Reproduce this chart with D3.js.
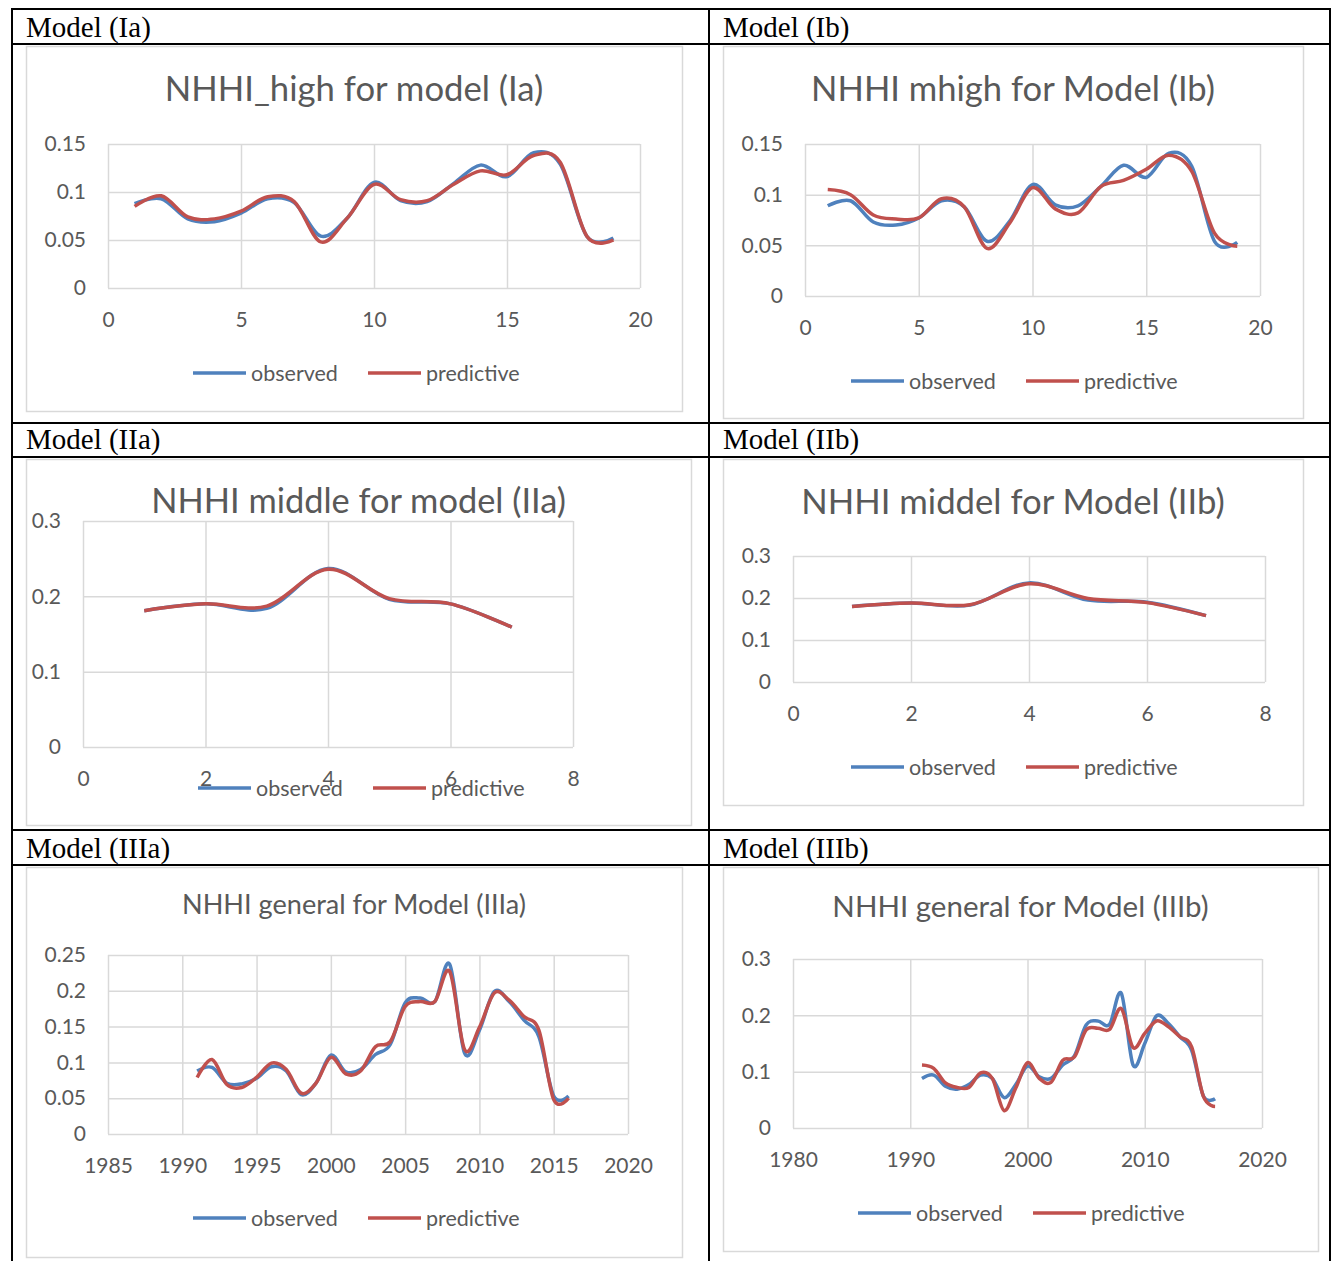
<!DOCTYPE html>
<html>
<head>
<meta charset="utf-8">
<script src="https://cdn.jsdelivr.net/npm/d3@7"></script>
<style>
  body { margin: 0; background: #fff; }
  svg text { font-family: Lato, "Open Sans", sans-serif; }
</style>
</head>
<body>
<div id="page"></div>
<script>
// index on the x axis (models I and II) and years (model III)
var idx19 = [1, 2, 3, 4, 5, 6, 7, 8, 9, 10, 11, 12, 13, 14, 15, 16, 17, 18, 19];
var idx7 = [1, 2, 3, 4, 5, 6, 7];
var years = [1991, 1992, 1993, 1994, 1995, 1996, 1997, 1998, 1999, 2000, 2001, 2002, 2003,
  2004, 2005, 2006, 2007, 2008, 2009, 2010, 2011, 2012, 2013, 2014, 2015, 2016];

var obsIa = [0.088, 0.093, 0.072, 0.069, 0.078, 0.093, 0.089, 0.054, 0.073, 0.110, 0.091, 0.090,
  0.109, 0.128, 0.116, 0.141, 0.129, 0.054, 0.052];
var predIa = [0.085, 0.096, 0.074, 0.072, 0.080, 0.095, 0.090, 0.048, 0.073, 0.108, 0.092, 0.091,
  0.108, 0.122, 0.118, 0.138, 0.131, 0.054, 0.050];

var obsIb = [0.089, 0.094, 0.073, 0.070, 0.077, 0.094, 0.088, 0.054, 0.074, 0.110, 0.090, 0.089,
  0.108, 0.129, 0.117, 0.141, 0.128, 0.054, 0.053];
var predIb = [0.105, 0.100, 0.080, 0.076, 0.077, 0.096, 0.088, 0.047, 0.072, 0.107, 0.086, 0.082,
  0.108, 0.114, 0.125, 0.139, 0.123, 0.062, 0.049];

var obsIIa = [0.181, 0.190, 0.184, 0.237, 0.196, 0.190, 0.159];
var predIIa = [0.181, 0.190, 0.187, 0.236, 0.197, 0.190, 0.159];

var obsIIb = [0.180, 0.188, 0.183, 0.236, 0.195, 0.190, 0.158];
var predIIb = [0.180, 0.188, 0.184, 0.234, 0.199, 0.189, 0.158];

var obsIIIa = [0.088, 0.093, 0.071, 0.070, 0.078, 0.094, 0.088, 0.055, 0.071, 0.110, 0.087, 0.090,
  0.111, 0.125, 0.183, 0.190, 0.185, 0.237, 0.113, 0.145, 0.199, 0.185, 0.159, 0.136, 0.053, 0.053];
var predIIIa = [0.079, 0.104, 0.069, 0.065, 0.079, 0.099, 0.090, 0.057, 0.071, 0.107, 0.084, 0.088,
  0.122, 0.129, 0.178, 0.185, 0.185, 0.227, 0.118, 0.149, 0.197, 0.187, 0.164, 0.145, 0.048, 0.050];

var obsIIIb = [0.088, 0.094, 0.074, 0.069, 0.077, 0.094, 0.088, 0.054, 0.077, 0.110, 0.091, 0.088,
  0.112, 0.128, 0.183, 0.190, 0.184, 0.239, 0.112, 0.150, 0.199, 0.186, 0.162, 0.138, 0.057, 0.052];
var predIIIb = [0.112, 0.106, 0.080, 0.072, 0.072, 0.098, 0.088, 0.031, 0.071, 0.116, 0.088, 0.081,
  0.120, 0.126, 0.174, 0.177, 0.175, 0.212, 0.143, 0.168, 0.190, 0.180, 0.162, 0.144, 0.056, 0.038];

// tick labels
var yTicksI = [0, 0.05, 0.1, 0.15];
var xTicksI = [0, 5, 10, 15, 20];
var yTicksII = [0, 0.1, 0.2, 0.3];
var xTicksII = [0, 2, 4, 6, 8];
var yTicksIIIa = [0, 0.05, 0.1, 0.15, 0.2, 0.25];
var xTicksIIIa = [1985, 1990, 1995, 2000, 2005, 2010, 2015, 2020];
var yTicksIIIb = [0, 0.1, 0.2, 0.3];
var xTicksIIIb = [1980, 1990, 2000, 2010, 2020];

var headers = ["Model (Ia)", "Model (Ib)", "Model (IIa)", "Model (IIb)", "Model (IIIa)", "Model (IIIb)"];
var seriesNames = ["observed", "predictive"];
var colors = ["#4f81bd", "#c0504d"];

var W = 1335, H = 1261;
var svg = d3.select("#page").append("svg")
  .attr("width", W)
  .attr("height", H);

// table grid
var tableLines = [
  [11, 9, 1331, 9], [12, 9, 12, H], [709, 9, 709, H], [1330, 9, 1330, H],
  [11, 44, 1331, 44], [11, 423, 1331, 423], [11, 457, 1331, 457],
  [11, 830, 1331, 830], [11, 865, 1331, 865]
];
svg.selectAll("line.tbl")
  .data(tableLines)
  .enter().append("line")
  .attr("class", "tbl")
  .attr("x1", function (d) { return d[0]; })
  .attr("y1", function (d) { return d[1]; })
  .attr("x2", function (d) { return d[2]; })
  .attr("y2", function (d) { return d[3]; })
  .attr("stroke", "#000")
  .attr("stroke-width", 2);

var headerPos = [[26, 37], [723, 37], [26, 449], [723, 449], [26, 858], [723, 858]];
svg.selectAll("text.hdr")
  .data(headers)
  .enter().append("text")
  .attr("class", "hdr")
  .attr("x", function (d, i) { return headerPos[i][0]; })
  .attr("y", function (d, i) { return headerPos[i][1]; })
  .style("font-family", "'Liberation Serif', 'Times New Roman', serif")
  .style("font-size", "29px")
  .attr("fill", "#000")
  .text(function (d) { return d; });

var charts = [
  {title: "NHHI_high for model (Ia)", titleSize: 34.7, titleY: 101,
    frame: [26, 46, 682, 411], plot: [108, 144, 640, 288],
    xDomain: [0, 20], yDomain: [0, 0.15], xTicks: xTicksI, yTicks: yTicksI,
    x: idx19, series: [obsIa, predIa], legend: [193, 373]},
  {title: "NHHI mhigh for Model (Ib)", titleSize: 34.6, titleY: 101,
    frame: [723, 46, 1303, 418], plot: [805, 144, 1260, 296],
    xDomain: [0, 20], yDomain: [0, 0.15], xTicks: xTicksI, yTicks: yTicksI,
    x: idx19, series: [obsIb, predIb], legend: [851, 381]},
  {title: "NHHI middle for model (IIa)", titleSize: 34.4, titleY: 513,
    frame: [26, 459, 691, 825], plot: [83, 521, 573, 747],
    xDomain: [0, 8], yDomain: [0, 0.3], xTicks: xTicksII, yTicks: yTicksII,
    x: idx7, series: [obsIIa, predIIa], legend: [198, 788]},
  {title: "NHHI middel for Model (IIb)", titleSize: 34.7, titleY: 514,
    frame: [723, 459, 1303, 805], plot: [793, 556, 1265, 682],
    xDomain: [0, 8], yDomain: [0, 0.3], xTicks: xTicksII, yTicks: yTicksII,
    x: idx7, series: [obsIIb, predIIb], legend: [851, 767]},
  {title: "NHHI general for Model (IIIa)", titleSize: 27.1, titleY: 914,
    frame: [26, 867, 682, 1257], plot: [108, 955, 628, 1134],
    xDomain: [1985, 2020], yDomain: [0, 0.25], xTicks: xTicksIIIa, yTicks: yTicksIIIa,
    x: years, series: [obsIIIa, predIIIa], legend: [193, 1218]},
  {title: "NHHI general for Model (IIIb)", titleSize: 29.5, titleY: 917,
    frame: [723, 867, 1318, 1251], plot: [793, 959, 1262, 1128],
    xDomain: [1980, 2020], yDomain: [0, 0.3], xTicks: xTicksIIIb, yTicks: yTicksIIIb,
    x: years, series: [obsIIIb, predIIIb], legend: [858, 1213]}
];

var fmt = d3.format("~g");

charts.forEach(function (c) {
  var g = svg.append("g");
  var f = c.frame, p = c.plot;

  g.append("rect")
    .attr("x", f[0] + 0.5).attr("y", f[1] + 0.5)
    .attr("width", f[2] - f[0]).attr("height", f[3] - f[1])
    .attr("fill", "#fff")
    .attr("stroke", "#d9d9d9")
    .attr("stroke-width", 1.5);

  g.append("text")
    .attr("x", (f[0] + f[2]) / 2)
    .attr("y", c.titleY)
    .attr("text-anchor", "middle")
    .attr("fill", "#595959")
    .style("font-size", c.titleSize + "px")
    .text(c.title);

  var x = d3.scaleLinear().domain(c.xDomain).range([p[0], p[2]]);
  var y = d3.scaleLinear().domain(c.yDomain).range([p[3], p[1]]);

  // gridlines both ways, Excel style
  var gx = g.append("g")
    .attr("transform", "translate(0," + p[3] + ")")
    .call(d3.axisBottom(x).tickValues(c.xTicks).tickSize(-(p[3] - p[1])).tickFormat(fmt));
  var gy = g.append("g")
    .attr("transform", "translate(" + p[0] + ",0)")
    .call(d3.axisLeft(y).tickValues(c.yTicks).tickSize(-(p[2] - p[0])).tickFormat(fmt).tickPadding(22));

  [gx, gy].forEach(function (a) {
    a.select(".domain").remove();
    a.selectAll(".tick line").attr("stroke", "#d9d9d9").attr("stroke-width", 1.5);
    a.selectAll(".tick text")
      .attr("fill", "#595959")
      .style("font-family", "Lato, sans-serif")
      .style("font-size", "21px");
  });
  gx.selectAll(".tick text").attr("dy", "0.35em").attr("y", 32);

  var line = d3.line()
    .x(function (d) { return x(d[0]); })
    .y(function (d) { return y(d[1]); })
    .curve(d3.curveCardinal.tension(0));

  c.series.forEach(function (s, i) {
    g.append("path")
      .datum(c.x.map(function (xv, j) { return [xv, s[j]]; }))
      .attr("fill", "none")
      .attr("stroke", colors[i])
      .attr("stroke-width", 3.5)
      .attr("stroke-linejoin", "round")
      .attr("d", line);
  });

  // legend
  var lg = g.append("g").attr("transform", "translate(" + c.legend[0] + "," + c.legend[1] + ")");
  seriesNames.forEach(function (name, i) {
    var ox = i * 175;
    lg.append("line")
      .attr("x1", ox).attr("x2", ox + 53)
      .attr("y1", 0).attr("y2", 0)
      .attr("stroke", colors[i])
      .attr("stroke-width", 3.5);
    lg.append("text")
      .attr("x", ox + 58)
      .attr("y", 0)
      .attr("dy", "0.35em")
      .attr("fill", "#595959")
      .style("font-size", "21.5px")
      .text(name);
  });
});
</script>
</body>
</html>
